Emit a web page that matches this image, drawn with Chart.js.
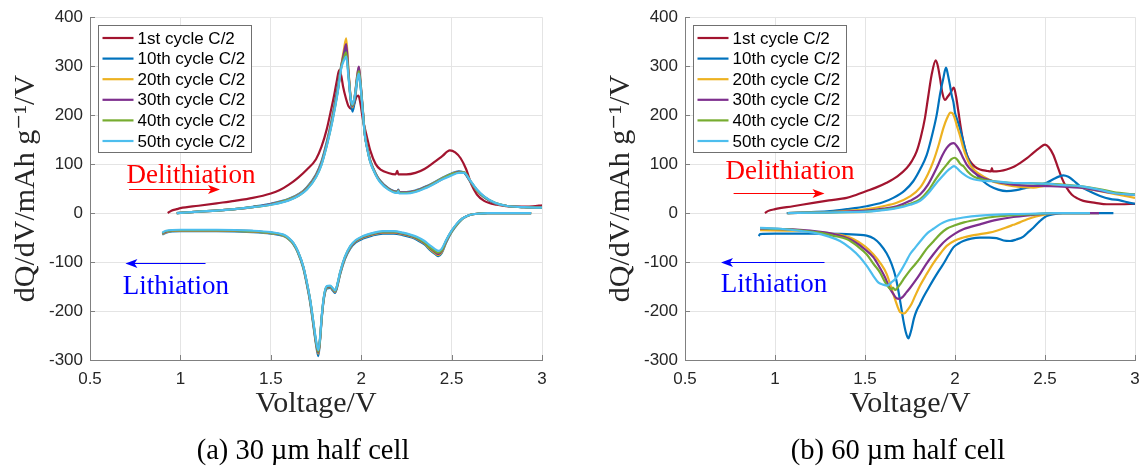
<!DOCTYPE html>
<html>
<head>
<meta charset="utf-8">
<script src="https://cdn.jsdelivr.net/npm/chart.js@4.4.1/dist/chart.umd.min.js"></script>
<style>
  html, body { margin: 0; padding: 0; background: #fff; }
  #wrap { position: relative; width: 1140px; height: 470px; }
  .panel { position: absolute; top: 0; width: 570px; height: 470px; }
</style>
</head>
<body>
<div id="wrap">
  <div class="panel" style="left:0"><canvas id="c30" width="570" height="470"></canvas></div>
  <div class="panel" style="left:570px"><canvas id="c60" width="570" height="470"></canvas></div>
</div>
<script>
// axis ticks
const xTickVals = [0.5, 1, 1.5, 2, 2.5, 3];
const xTickLabels = ['0.5', '1', '1.5', '2', '2.5', '3'];
const yTickVals = [-300, -200, -100, 0, 100, 200, 300, 400];
const yTickLabels = ['-300', '-200', '-100', '0', '100', '200', '300', '400'];

// cycles
const cycleLabels = ['1st cycle C/2', '10th cycle C/2', '20th cycle C/2', '30th cycle C/2', '40th cycle C/2', '50th cycle C/2'];
const cycleColors = ['#A2142F', '#0072BD', '#EDB120', '#7E2F8E', '#77AC30', '#4DBEEE'];

// ---- 30 um half cell: delithiation branches [V, dQ/dV]
const up30_1 = [[0.93,0],[0.95,5],[0.98,8],[1.0,10],[1.1,15],[1.2,20],[1.3,25],[1.4,31],[1.5,40],[1.55,47],[1.6,58],[1.65,72],[1.7,89],[1.75,110],[1.78,135],[1.81,172],[1.83,205],[1.85,240],[1.865,270],[1.878,292],[1.89,280],[1.9,258],[1.915,235],[1.93,218],[1.945,213],[1.96,222],[1.975,238],[1.985,240],[1.995,225],[2.01,190],[2.03,158],[2.05,128],[2.08,100],[2.11,88],[2.15,82],[2.19,79],[2.2,86],[2.205,79],[2.25,79],[2.3,82],[2.35,90],[2.4,103],[2.45,117],[2.49,128],[2.52,124],[2.55,112],[2.58,90],[2.61,58],[2.64,38],[2.68,25],[2.75,17],[2.85,13],[2.95,14],[3.0,16]];
const up30_10 = [[0.98,0],[1.1,3],[1.2,5],[1.3,8],[1.4,13],[1.5,19],[1.6,29],[1.66,40],[1.7,53],[1.75,79],[1.78,105],[1.81,146],[1.84,197],[1.87,258],[1.89,302],[1.905,322],[1.917,335],[1.93,282],[1.942,228],[1.952,207],[1.965,230],[1.978,270],[1.987,288],[1.995,266],[2.01,203],[2.02,160],[2.035,131],[2.05,108],[2.08,81],[2.105,66],[2.15,51],[2.2,44],[2.205,48],[2.21,43],[2.25,43],[2.3,46],[2.35,53],[2.4,62],[2.45,72],[2.5,81],[2.54,85],[2.57,82],[2.6,66],[2.64,46],[2.68,32],[2.74,20],[2.8,15],[2.9,12],[3.0,11]];
const up30_20 = [[0.98,0],[1.1,3],[1.2,5],[1.3,8],[1.4,12],[1.5,18],[1.6,28],[1.66,39],[1.7,51],[1.75,77],[1.78,102],[1.81,142],[1.84,192],[1.87,252],[1.89,302],[1.905,335],[1.917,357],[1.93,290],[1.942,234],[1.952,216],[1.965,238],[1.978,280],[1.987,298],[1.995,272],[2.01,206],[2.02,162],[2.035,131],[2.05,107],[2.08,80],[2.105,65],[2.15,50],[2.2,43],[2.205,47],[2.21,42],[2.25,42],[2.3,45],[2.35,52],[2.4,61],[2.45,71],[2.5,80],[2.54,84],[2.57,83],[2.6,67],[2.64,46],[2.68,33],[2.74,20],[2.8,15],[2.9,12],[3.0,11]];
const up30_30 = [[0.98,0],[1.1,3],[1.2,5],[1.3,8],[1.4,12],[1.5,18],[1.6,27],[1.66,38],[1.7,50],[1.75,76],[1.78,101],[1.81,141],[1.84,190],[1.87,250],[1.89,300],[1.905,328],[1.917,345],[1.93,286],[1.942,234],[1.952,218],[1.965,240],[1.978,281],[1.987,299],[1.995,273],[2.01,206],[2.02,161],[2.035,130],[2.05,106],[2.08,80],[2.105,65],[2.15,50],[2.2,43],[2.205,47],[2.21,42],[2.25,42],[2.3,45],[2.35,52],[2.4,60],[2.45,70],[2.5,79],[2.54,84],[2.57,83],[2.6,67],[2.64,47],[2.68,33],[2.74,20],[2.8,15],[2.9,12],[3.0,11]];
const up30_40 = [[0.98,0],[1.1,3],[1.2,5],[1.3,8],[1.4,12],[1.5,17],[1.6,27],[1.66,37],[1.7,49],[1.75,74],[1.78,99],[1.81,139],[1.84,188],[1.87,248],[1.89,298],[1.905,318],[1.917,328],[1.93,280],[1.942,234],[1.952,220],[1.965,240],[1.978,276],[1.987,290],[1.995,268],[2.01,204],[2.02,160],[2.035,129],[2.05,105],[2.08,79],[2.105,64],[2.15,49],[2.2,42],[2.205,46],[2.21,41],[2.25,41],[2.3,44],[2.35,51],[2.4,60],[2.45,70],[2.5,79],[2.54,83],[2.57,83],[2.6,68],[2.64,47],[2.68,33],[2.74,21],[2.8,15],[2.9,12],[3.0,11]];
const up30_50 = [[0.98,0],[1.1,3],[1.2,5],[1.3,8],[1.4,12],[1.5,17],[1.6,26],[1.66,37],[1.7,48],[1.75,73],[1.78,98],[1.81,138],[1.84,186],[1.87,246],[1.89,296],[1.905,312],[1.917,320],[1.93,276],[1.942,234],[1.952,222],[1.965,240],[1.978,272],[1.987,285],[1.995,265],[2.01,202],[2.02,159],[2.035,128],[2.05,104],[2.08,78],[2.105,63],[2.15,48],[2.2,41],[2.205,45],[2.21,40],[2.25,40],[2.3,43],[2.35,50],[2.4,59],[2.45,69],[2.5,77],[2.54,82],[2.57,82],[2.6,68],[2.64,48],[2.68,34],[2.74,21],[2.8,15],[2.9,12],[3.0,11]];

// ---- 30 um half cell: lithiation branches
const lo30_10 = [[0.9,-44],[0.92,-40],[1.0,-37],[1.2,-37],[1.4,-39],[1.5,-42],[1.57,-47],[1.6,-54],[1.625,-64],[1.65,-81],[1.68,-113],[1.7,-147],[1.717,-181],[1.735,-228],[1.75,-268],[1.763,-292],[1.772,-262],[1.782,-214],[1.795,-172],[1.81,-154],[1.828,-153],[1.845,-159],[1.856,-163],[1.87,-147],[1.883,-126],[1.91,-94],[1.94,-72],[1.97,-60],[2.01,-52],[2.06,-46],[2.12,-42],[2.18,-42],[2.23,-45],[2.28,-50],[2.31,-55],[2.35,-64],[2.38,-75],[2.41,-84],[2.427,-88],[2.445,-82],[2.47,-60],[2.5,-39],[2.53,-24],[2.56,-12],[2.6,-4],[2.65,-1],[2.7,0],[2.94,0]];
const lo30_20 = [[0.9,-43],[0.92,-39],[1.0,-36],[1.2,-36],[1.4,-38],[1.5,-41],[1.57,-46],[1.6,-53],[1.625,-63],[1.65,-80],[1.68,-111],[1.7,-145],[1.717,-178],[1.735,-225],[1.75,-265],[1.763,-287],[1.772,-260],[1.782,-212],[1.795,-170],[1.81,-152],[1.828,-151],[1.845,-157],[1.856,-161],[1.87,-145],[1.883,-124],[1.91,-92],[1.94,-70],[1.97,-58],[2.01,-50],[2.06,-44],[2.12,-40],[2.18,-40],[2.23,-43],[2.28,-48],[2.31,-53],[2.35,-62],[2.38,-73],[2.41,-82],[2.427,-86],[2.445,-80],[2.47,-58],[2.5,-38],[2.53,-23],[2.56,-12],[2.6,-4],[2.65,-1],[2.7,0],[2.94,0]];
const lo30_30 = [[0.9,-42],[0.92,-38],[1.0,-35],[1.2,-35],[1.4,-37],[1.5,-40],[1.57,-45],[1.6,-52],[1.625,-62],[1.65,-79],[1.68,-110],[1.7,-144],[1.717,-177],[1.735,-224],[1.75,-264],[1.763,-285],[1.772,-259],[1.782,-211],[1.795,-169],[1.81,-151],[1.828,-150],[1.845,-156],[1.856,-160],[1.87,-144],[1.883,-123],[1.91,-91],[1.94,-69],[1.97,-57],[2.01,-49],[2.06,-43],[2.12,-39],[2.18,-39],[2.23,-42],[2.28,-47],[2.31,-52],[2.35,-61],[2.38,-71],[2.41,-80],[2.427,-84],[2.445,-78],[2.47,-57],[2.5,-37],[2.53,-22],[2.56,-11],[2.6,-4],[2.65,-1],[2.7,0],[2.94,0]];
const lo30_40 = [[0.9,-41],[0.92,-37],[1.0,-35],[1.2,-35],[1.4,-37],[1.5,-40],[1.57,-45],[1.6,-52],[1.625,-62],[1.65,-79],[1.68,-110],[1.7,-143],[1.717,-176],[1.735,-222],[1.75,-262],[1.763,-283],[1.772,-258],[1.782,-210],[1.795,-168],[1.81,-150],[1.828,-149],[1.845,-155],[1.856,-159],[1.87,-143],[1.883,-122],[1.91,-90],[1.94,-68],[1.97,-56],[2.01,-48],[2.06,-42],[2.12,-38],[2.18,-38],[2.23,-41],[2.28,-46],[2.31,-51],[2.35,-60],[2.38,-70],[2.41,-78],[2.427,-81],[2.445,-76],[2.47,-56],[2.5,-37],[2.53,-22],[2.56,-11],[2.6,-4],[2.65,-1],[2.7,0],[2.94,0]];
const lo30_50 = [[0.9,-40],[0.92,-36],[1.0,-34],[1.2,-34],[1.4,-36],[1.5,-39],[1.57,-44],[1.6,-51],[1.625,-61],[1.65,-78],[1.68,-109],[1.7,-142],[1.717,-175],[1.735,-220],[1.75,-259],[1.763,-280],[1.772,-256],[1.782,-209],[1.795,-167],[1.81,-149],[1.828,-148],[1.845,-154],[1.856,-158],[1.87,-142],[1.883,-121],[1.91,-89],[1.94,-67],[1.97,-55],[2.01,-47],[2.06,-41],[2.12,-37],[2.18,-37],[2.23,-40],[2.28,-45],[2.31,-49],[2.35,-57],[2.38,-66],[2.41,-74],[2.427,-77],[2.445,-73],[2.47,-55],[2.5,-36],[2.53,-21],[2.56,-11],[2.6,-4],[2.65,-1],[2.7,0],[2.94,0]];

// ---- 60 um half cell: delithiation branches
const up60_1 = [[0.944,0],[0.96,4],[1.0,8],[1.1,14],[1.213,21],[1.3,26],[1.398,31],[1.45,37],[1.509,45],[1.56,52],[1.62,62],[1.68,75],[1.732,92],[1.76,106],[1.787,126],[1.81,155],[1.833,194],[1.85,235],[1.87,282],[1.893,312],[1.905,300],[1.917,275],[1.93,245],[1.944,231],[1.96,238],[1.972,244],[1.994,256],[2.005,240],[2.019,207],[2.032,175],[2.046,146],[2.065,120],[2.083,106],[2.11,95],[2.139,89],[2.18,86],[2.2,85],[2.205,92],[2.21,85],[2.25,86],[2.287,89],[2.33,95],[2.361,102],[2.4,112],[2.435,123],[2.47,133],[2.5,140],[2.52,135],[2.546,119],[2.57,95],[2.593,72],[2.62,52],[2.648,38],[2.68,30],[2.713,25],[2.78,21],[2.843,18],[2.92,18],[3.0,19]];
const up60_10 = [[1.065,0],[1.2,2],[1.306,4],[1.4,8],[1.509,14],[1.6,22],[1.657,31],[1.72,46],[1.768,65],[1.81,92],[1.843,119],[1.87,155],[1.898,200],[1.918,245],[1.935,275],[1.95,297],[1.962,280],[1.972,261],[1.982,240],[1.991,227],[2.0,205],[2.009,194],[2.02,182],[2.037,160],[2.05,140],[2.065,119],[2.09,97],[2.12,79],[2.16,64],[2.194,55],[2.24,48],[2.287,45],[2.34,47],[2.398,52],[2.45,56],[2.509,62],[2.55,70],[2.58,75],[2.602,77],[2.63,74],[2.66,66],[2.694,55],[2.75,44],[2.806,35],[2.86,29],[2.917,26],[2.96,22],[3.0,19]];
const up60_20 = [[1.07,0],[1.2,1],[1.35,3],[1.509,8],[1.6,14],[1.676,21],[1.75,34],[1.806,52],[1.85,80],[1.88,106],[1.91,140],[1.935,173],[1.955,193],[1.975,205],[1.985,204],[2.0,192],[2.009,180],[2.03,155],[2.046,133],[2.065,113],[2.083,99],[2.11,87],[2.139,79],[2.19,68],[2.231,62],[2.28,58],[2.324,55],[2.38,53],[2.435,52],[2.49,55],[2.546,58],[2.6,57],[2.657,55],[2.73,50],[2.806,45],[2.9,38],[3.0,31]];
const up60_30 = [[1.07,0],[1.25,1],[1.4,3],[1.509,5],[1.6,9],[1.676,14],[1.75,25],[1.806,38],[1.85,58],[1.898,92],[1.93,118],[1.954,133],[1.975,141],[1.994,143],[2.01,137],[2.028,126],[2.046,112],[2.065,99],[2.09,88],[2.12,79],[2.16,71],[2.213,65],[2.27,61],[2.324,58],[2.4,56],[2.509,55],[2.6,54],[2.694,52],[2.78,47],[2.88,41],[3.0,37]];
const up60_40 = [[1.07,0],[1.25,1],[1.4,2],[1.509,3],[1.6,7],[1.676,11],[1.75,19],[1.806,28],[1.85,45],[1.898,72],[1.93,88],[1.954,99],[1.98,110],[1.998,113],[2.015,108],[2.03,100],[2.046,96],[2.07,85],[2.102,75],[2.15,69],[2.213,65],[2.3,62],[2.4,61],[2.509,60],[2.6,58],[2.694,55],[2.8,49],[2.88,43],[3.0,38]];
const up60_50 = [[1.07,0],[1.25,1],[1.4,2],[1.509,3],[1.6,6],[1.676,10],[1.75,17],[1.806,25],[1.85,40],[1.898,62],[1.93,75],[1.954,85],[1.98,93],[1.995,96],[2.01,92],[2.03,85],[2.046,80],[2.07,74],[2.102,69],[2.15,66],[2.213,65],[2.3,62],[2.4,61],[2.509,60],[2.6,57],[2.694,55],[2.8,48],[2.88,41],[3.0,37]];

// ---- 60 um half cell: lithiation branches
const lo60_10 = [[0.91,-47],[0.917,-43],[1.0,-42],[1.213,-42],[1.398,-43],[1.509,-46],[1.55,-52],[1.583,-63],[1.62,-82],[1.648,-104],[1.67,-130],[1.685,-158],[1.7,-190],[1.713,-219],[1.728,-245],[1.741,-256],[1.75,-248],[1.759,-236],[1.772,-215],[1.787,-199],[1.805,-186],[1.824,-172],[1.85,-155],[1.88,-136],[1.91,-118],[1.935,-104],[1.965,-85],[1.991,-70],[2.02,-62],[2.046,-57],[2.09,-52],[2.139,-50],[2.19,-50],[2.231,-51],[2.27,-56],[2.306,-57],[2.34,-54],[2.38,-48],[2.41,-38],[2.435,-30],[2.47,-17],[2.509,-6],[2.55,-2],[2.6,0],[2.88,0]];
const lo60_20 = [[0.917,-35],[1.12,-36],[1.306,-42],[1.38,-46],[1.435,-53],[1.5,-68],[1.546,-84],[1.585,-102],[1.62,-124],[1.657,-165],[1.68,-190],[1.694,-202],[1.717,-205],[1.74,-196],[1.759,-185],[1.78,-168],[1.806,-148],[1.84,-126],[1.88,-102],[1.92,-82],[1.954,-67],[2.0,-56],[2.046,-50],[2.09,-46],[2.139,-43],[2.19,-40],[2.231,-36],[2.28,-30],[2.324,-24],[2.36,-19],[2.398,-13],[2.45,-7],[2.509,-2],[2.56,0],[2.8,0]];
const lo60_30 = [[0.917,-32],[1.1,-33],[1.287,-40],[1.36,-46],[1.435,-57],[1.5,-74],[1.546,-90],[1.58,-110],[1.611,-131],[1.635,-152],[1.657,-165],[1.675,-174],[1.69,-175],[1.71,-171],[1.73,-162],[1.75,-153],[1.78,-138],[1.806,-124],[1.84,-104],[1.88,-84],[1.92,-66],[1.954,-54],[2.0,-42],[2.046,-33],[2.139,-23],[2.231,-14],[2.324,-8],[2.42,-4],[2.509,-1],[2.6,0],[2.8,0]];
const lo60_40 = [[0.917,-31],[1.065,-33],[1.25,-40],[1.32,-46],[1.398,-53],[1.46,-68],[1.509,-84],[1.55,-105],[1.583,-121],[1.61,-140],[1.63,-151],[1.645,-156],[1.655,-152],[1.667,-157],[1.68,-153],[1.7,-143],[1.72,-132],[1.75,-117],[1.78,-104],[1.806,-92],[1.84,-74],[1.88,-58],[1.92,-42],[1.954,-32],[2.0,-25],[2.05,-19],[2.139,-12],[2.231,-7],[2.33,-4],[2.45,-2],[2.55,0],[2.75,0]];
const lo60_50 = [[0.917,-30],[1.028,-32],[1.213,-40],[1.3,-48],[1.361,-57],[1.42,-72],[1.472,-90],[1.51,-108],[1.546,-128],[1.575,-142],[1.6,-146],[1.625,-148],[1.645,-142],[1.667,-135],[1.685,-126],[1.704,-115],[1.73,-98],[1.75,-84],[1.78,-70],[1.806,-58],[1.85,-40],[1.88,-32],[1.92,-22],[1.954,-16],[2.0,-12],[2.046,-9],[2.139,-5],[2.231,-3],[2.35,-2],[2.45,-1],[2.55,0],[2.75,0]];

// annotation placement (volts, dQ/dV)
const notes30 = { del: [1.059, 62], delArrow: [0.716, 1.219, 49], lit: [0.975, -165], litArrow: [1.139, 0.696, -102] };
const notes60 = { del: [1.083, 69], delArrow: [0.77, 1.275, 41], lit: [0.994, -162], litArrow: [1.275, 0.70, -99] };

const serif = '"Liberation Serif", "DejaVu Serif", serif';
const sans = '"Liberation Sans", Arial, sans-serif';
const axisColor = '#808080';

function branch(pts, i) {
  return {
    label: cycleLabels[i],
    data: pts.map(p => ({ x: p[0], y: p[1] })),
    borderColor: cycleColors[i],
    borderWidth: 2.2,
    pointRadius: 0,
    fill: false,
    cubicInterpolationMode: 'monotone',
    order: 10 - i
  };
}

function arrow(ctx, x1, x2, y, color) {
  const d = x2 > x1 ? 1 : -1;
  ctx.strokeStyle = color;
  ctx.fillStyle = color;
  ctx.lineWidth = 1.2;
  ctx.beginPath();
  ctx.moveTo(x1, y);
  ctx.lineTo(x2 - 6 * d, y);
  ctx.stroke();
  ctx.beginPath();
  ctx.moveTo(x2, y);
  ctx.lineTo(x2 - 12 * d, y - 4.5);
  ctx.lineTo(x2 - 9 * d, y);
  ctx.lineTo(x2 - 12 * d, y + 4.5);
  ctx.closePath();
  ctx.fill();
}

const extras = {
  id: 'extras',
  afterDraw(chart, args, opts) {
    const { ctx, chartArea: ca } = chart;
    const x = chart.scales.x, y = chart.scales.y;
    ctx.save();

    // inward ticks
    ctx.strokeStyle = axisColor;
    ctx.lineWidth = 1;
    ctx.beginPath();
    x.ticks.forEach(t => {
      const px = Math.round(x.getPixelForValue(t.value)) + 0.5;
      ctx.moveTo(px, ca.bottom);
      ctx.lineTo(px, ca.bottom - 5);
    });
    y.ticks.forEach(t => {
      const py = Math.round(y.getPixelForValue(t.value)) + 0.5;
      ctx.moveTo(ca.left, py);
      ctx.lineTo(ca.left + 5, py);
    });
    ctx.stroke();

    // Delithiation / Lithiation notes
    const n = opts.notes;
    ctx.font = '27px ' + serif;
    ctx.textAlign = 'center';
    ctx.textBaseline = 'alphabetic';
    ctx.fillStyle = '#ff0000';
    ctx.fillText('Delithiation', x.getPixelForValue(n.del[0]), y.getPixelForValue(n.del[1]));
    arrow(ctx, x.getPixelForValue(n.delArrow[0]), x.getPixelForValue(n.delArrow[1]), Math.round(y.getPixelForValue(n.delArrow[2])) + 0.5, '#ff0000');
    ctx.fillStyle = '#0000ff';
    ctx.fillText('Lithiation', x.getPixelForValue(n.lit[0]), y.getPixelForValue(n.lit[1]));
    arrow(ctx, x.getPixelForValue(n.litArrow[0]), x.getPixelForValue(n.litArrow[1]), Math.round(y.getPixelForValue(n.litArrow[2])) + 0.5, '#0000ff');

    // legend box
    const lx = Math.round(ca.left + 8) + 0.5, ly = Math.round(ca.top + 8) + 0.5;
    const lw = 153, lh = 127;
    ctx.fillStyle = '#ffffff';
    ctx.fillRect(lx, ly, lw, lh);
    ctx.strokeStyle = '#707070';
    ctx.lineWidth = 1;
    ctx.strokeRect(lx, ly, lw, lh);
    ctx.font = '17px ' + sans;
    ctx.textAlign = 'left';
    ctx.textBaseline = 'middle';
    cycleLabels.forEach((lbl, i) => {
      const yy = ly + 12.5 + i * 20.6;
      ctx.strokeStyle = cycleColors[i];
      ctx.lineWidth = 2.2;
      ctx.beginPath();
      ctx.moveTo(lx + 4, yy);
      ctx.lineTo(lx + 35, yy);
      ctx.stroke();
      ctx.fillStyle = '#000000';
      ctx.fillText(lbl, lx + 39, yy + 1);
    });

    // sub-figure caption
    ctx.font = '28.5px ' + serif;
    ctx.textAlign = 'center';
    ctx.textBaseline = 'alphabetic';
    ctx.fillStyle = '#000000';
    ctx.fillText(opts.caption, opts.captionX, 459);
    ctx.restore();
  }
};

function makeChart(id, ups, los, padLeft, padRight, notes, caption, captionX) {
  const datasets = [];
  ups.forEach((pts, i) => datasets.push(branch(pts, i)));
  los.forEach((pts, i) => { if (pts) datasets.push(branch(pts, i)); });

  new Chart(document.getElementById(id), {
    type: 'line',
    data: { datasets: datasets },
    plugins: [extras],
    options: {
      responsive: false,
      animation: false,
      events: [],
      layout: { padding: { left: padLeft, right: padRight, top: 15, bottom: 40 } },
      plugins: {
        legend: { display: false },
        tooltip: { enabled: false },
        extras: { notes: notes, caption: caption, captionX: captionX }
      },
      scales: {
        x: {
          type: 'linear',
          min: 0.5,
          max: 3,
          afterBuildTicks: s => { s.ticks = xTickVals.map(v => ({ value: v })); },
          afterFit: s => { s.height = 70; s.paddingLeft = 0; s.paddingRight = 0; },
          ticks: {
            autoSkip: false,
            maxRotation: 0,
            padding: 9,
            color: '#262626',
            font: { family: sans, size: 17 },
            callback: (v, i) => xTickLabels[i]
          },
          grid: { color: '#e4e4e4', drawTicks: false },
          border: { color: axisColor },
          title: {
            display: true,
            text: 'Voltage/V',
            color: '#262626',
            font: { family: serif, size: 30 },
            padding: { top: 0, bottom: 8 }
          }
        },
        y: {
          min: -300,
          max: 400,
          afterBuildTicks: s => { s.ticks = yTickVals.map(v => ({ value: v })); },
          afterFit: s => { s.width = 90; },
          ticks: {
            padding: 7,
            color: '#262626',
            font: { family: sans, size: 17 },
            callback: (v, i) => yTickLabels[i]
          },
          grid: { color: '#e4e4e4', drawTicks: false },
          border: { color: axisColor },
          title: {
            display: true,
            text: 'dQ/dV/mAh g\u207B\u00B9/V',
            color: '#262626',
            font: { family: serif, size: 30 },
            padding: { top: 8, bottom: 0 }
          }
        }
      }
    }
  });
}

makeChart('c30',
  [up30_1, up30_10, up30_20, up30_30, up30_40, up30_50],
  [null, lo30_10, lo30_20, lo30_30, lo30_40, lo30_50],
  0, 28, notes30, '(a) 30 \u00B5m half cell', 303);

makeChart('c60',
  [up60_1, up60_10, up60_20, up60_30, up60_40, up60_50],
  [null, lo60_10, lo60_20, lo60_30, lo60_40, lo60_50],
  25, 5, notes60, '(b) 60 \u00B5m half cell', 328);
</script>
</body>
</html>
